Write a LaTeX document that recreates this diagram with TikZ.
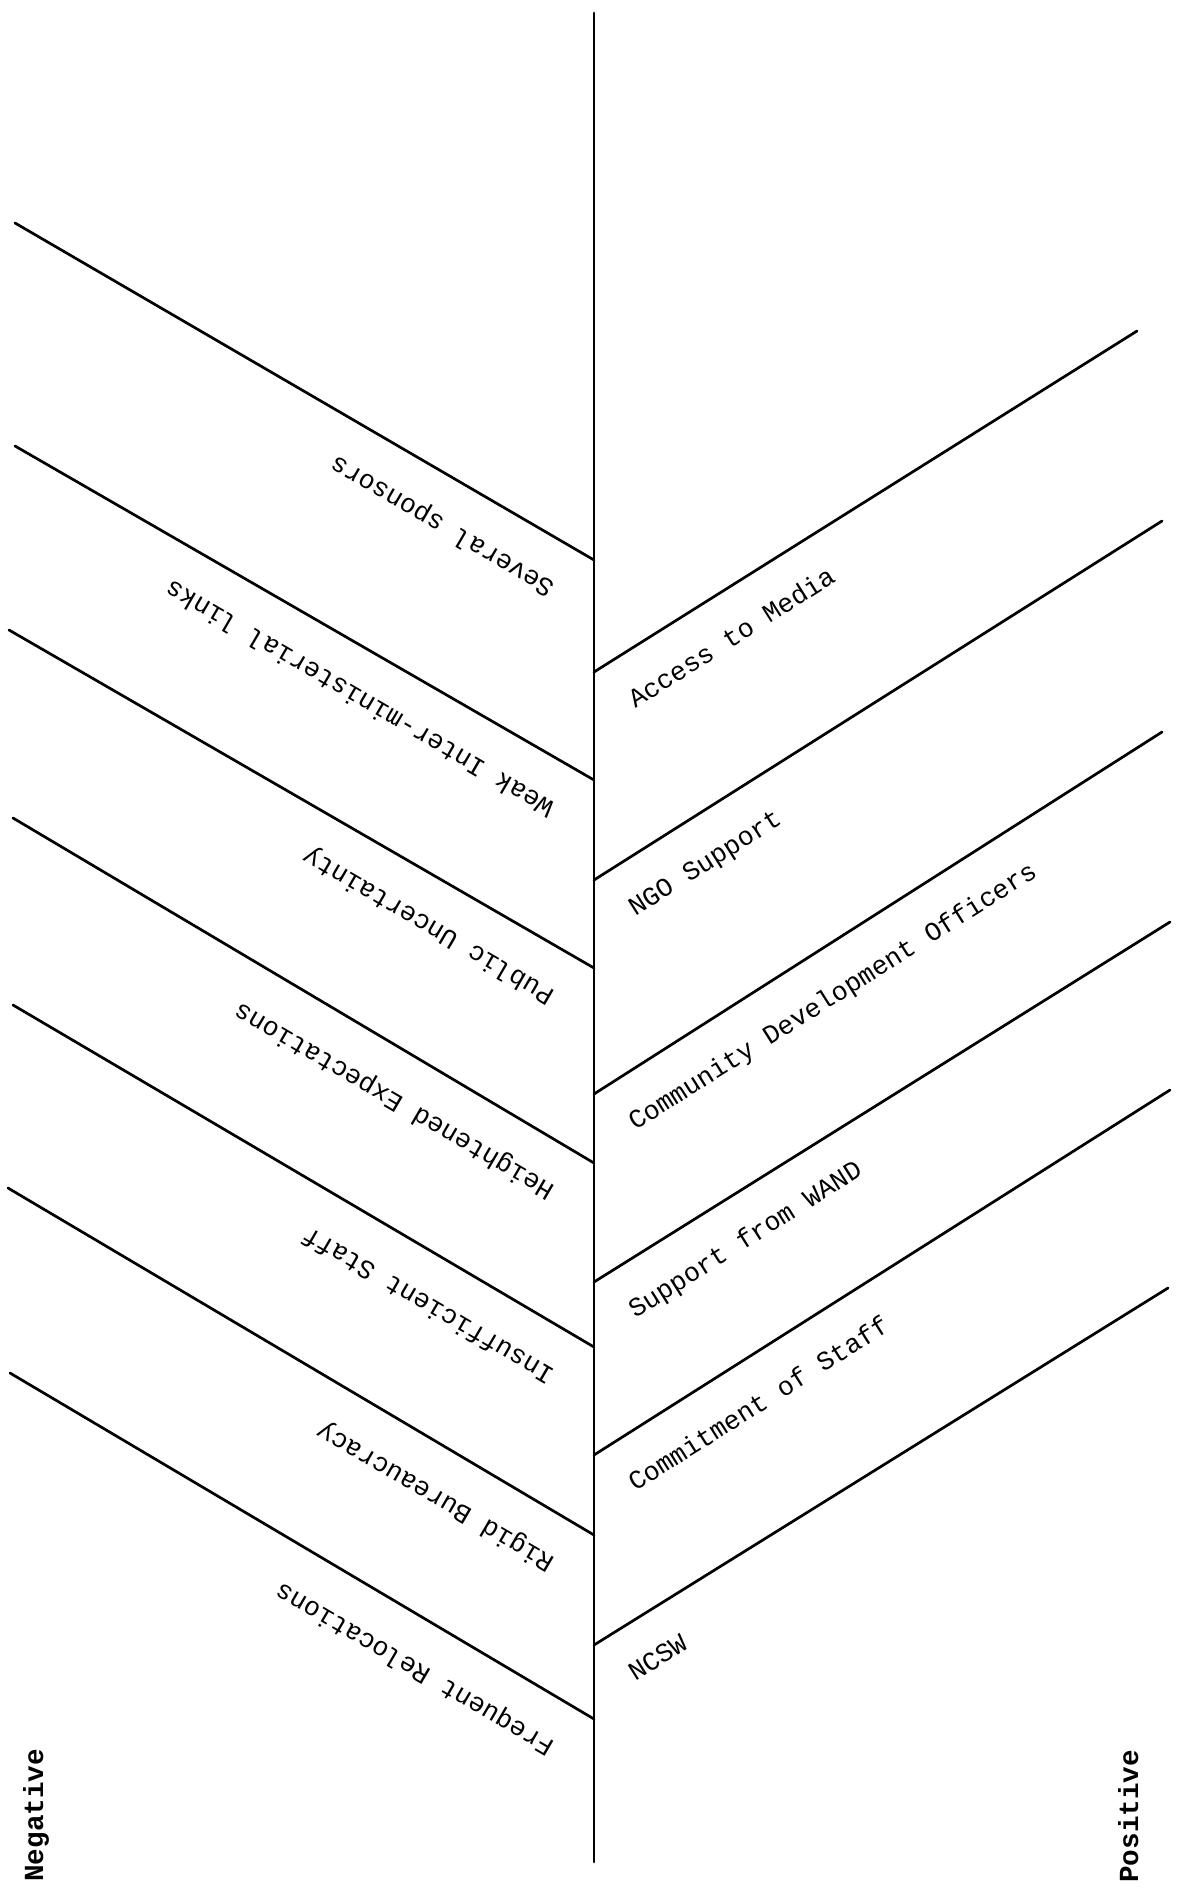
\documentclass[tikz,border=0pt]{standalone}
\usepackage{fontspec}
\setmonofont{Liberation Mono}
\usetikzlibrary{calc}
\newcommand\lblfont{\fontsize{13.25pt}{16pt}\selectfont\ttfamily}
\newcommand\sidefont{\fontsize{13.8pt}{16pt}\selectfont\ttfamily\bfseries}
\begin{document}
\begin{tikzpicture}[x=0.5pt,y=-0.5pt,
  branch/.style={line width=1.35pt, line cap=round},
  neglabel/.style={anchor=base west, inner sep=0pt, rotate=149.7, font=\lblfont},
  poslabel/.style={anchor=base west, inner sep=0pt, rotate=32.3, font=\lblfont},
  sidelabel/.style={anchor=base west, inner sep=0pt, rotate=90, font=\sidefont}]
\useasboundingbox[fill=white] (0,0) rectangle (1185,1889);

% spine
\coordinate (top) at (594,13);
\coordinate (bot) at (594,1862);
\draw[branch] (top) -- (bot);

% negative (left) branches
\coordinate (S1) at (15,223);  \coordinate (E1) at (594,560);
\coordinate (S2) at (15,446);  \coordinate (E2) at (594,780);
\coordinate (S3) at (9,630);   \coordinate (E3) at (594,968);
\coordinate (S4) at (13,818);  \coordinate (E4) at (594,1163);
\coordinate (S5) at (13,1005); \coordinate (E5) at (594,1347);
\coordinate (S6) at (8,1188);  \coordinate (E6) at (594,1535);
\coordinate (S7) at (10,1373); \coordinate (E7) at (594,1719);
\foreach \i in {1,...,7}{\draw[branch] (S\i) -- (E\i);}

\node[neglabel] (n1) at ($(E1)+(-38,24)$) {Several sponsors};
\node[neglabel] (n2) at ($(E2)+(-38,24)$) {Weak Inter-ministerial links};
\node[neglabel] (n3) at ($(E3)+(-38,24)$) {Public Uncertainty};
\node[neglabel] (n4) at ($(E4)+(-38,24)$) {Heightened Expectations};
\node[neglabel] (n5) at ($(E5)+(-38,24)$) {Insufficient Staff};
\node[neglabel] (n6) at ($(E6)+(-38,24)$) {Rigid Bureaucracy};
\node[neglabel] (n7) at ($(E7)+(-38,24)$) {Frequent Relocations};

% positive (right) branches
\coordinate (R1s) at (594,672);  \coordinate (R1e) at (1137,331);
\coordinate (R2s) at (594,880);  \coordinate (R2e) at (1162,521);
\coordinate (R3s) at (594,1094); \coordinate (R3e) at (1162,732);
\coordinate (R4s) at (594,1282); \coordinate (R4e) at (1170,922);
\coordinate (R5s) at (594,1455); \coordinate (R5e) at (1170,1090);
\coordinate (R6s) at (594,1645); \coordinate (R6e) at (1168,1288);
\foreach \i in {1,...,6}{\draw[branch] (R\i s) -- (R\i e);}

\node[poslabel] (p1) at ($(R1s)+(41,37)$) {Access to Media};
\node[poslabel] (p2) at ($(R2s)+(41,37)$) {NGO Support};
\node[poslabel] (p3) at ($(R3s)+(41,37)$) {Community Development Officers};
\node[poslabel] (p4) at ($(R4s)+(41,37)$) {Support from WAND};
\node[poslabel] (p5) at ($(R5s)+(41,37)$) {Commitment of Staff};
\node[poslabel] (p6) at ($(R6s)+(41,37)$) {NCSW};

% side captions
\node[sidelabel] (neg) at (43,1882) {Negative};
\node[sidelabel] (pos) at (1138,1883) {Positive};
\end{tikzpicture}
\end{document}
